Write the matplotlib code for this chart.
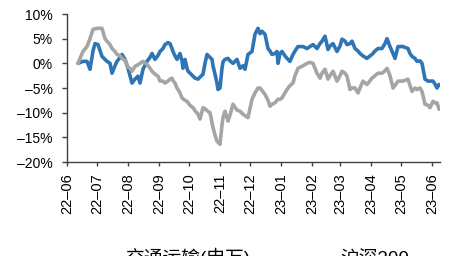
import numpy as np
import pandas as pd
import matplotlib
matplotlib.use('Agg')
import matplotlib.pyplot as plt
import matplotlib.dates as mdates
from matplotlib.ticker import FuncFormatter

plt.rcParams['font.family'] = ['Liberation Sans', 'Noto Sans CJK SC']

# dates of the readings
dates = [
    '2022-06-12', '2022-06-17', '2022-06-21', '2022-06-24', '2022-06-27', '2022-06-29',
    '2022-07-02', '2022-07-06', '2022-07-09', '2022-07-11', '2022-07-14', '2022-07-16',
    '2022-07-19', '2022-07-21', '2022-07-24', '2022-07-26', '2022-07-29',
    '2022-08-01', '2022-08-03', '2022-08-05', '2022-08-08', '2022-08-11', '2022-08-13',
    '2022-08-16', '2022-08-20', '2022-08-23', '2022-08-25', '2022-08-28', '2022-08-31',
    '2022-09-02', '2022-09-05', '2022-09-07', '2022-09-10', '2022-09-12', '2022-09-14',
    '2022-09-15', '2022-09-17', '2022-09-19', '2022-09-22', '2022-09-24', '2022-09-25',
    '2022-09-27', '2022-09-29', '2022-09-30',
    '2022-10-02', '2022-10-05', '2022-10-07', '2022-10-10', '2022-10-12', '2022-10-15',
    '2022-10-17', '2022-10-19', '2022-10-22', '2022-10-24', '2022-10-25', '2022-10-27',
    '2022-10-29', '2022-10-30',
    '2022-11-01', '2022-11-03', '2022-11-04', '2022-11-06', '2022-11-09', '2022-11-11',
    '2022-11-14', '2022-11-18', '2022-11-21', '2022-11-24', '2022-11-26', '2022-11-29',
    '2022-12-03', '2022-12-06', '2022-12-09', '2022-12-11', '2022-12-13', '2022-12-16',
    '2022-12-19', '2022-12-21', '2022-12-23', '2022-12-26', '2022-12-28', '2022-12-29',
    '2022-12-31',
    '2023-01-02', '2023-01-05', '2023-01-07', '2023-01-10', '2023-01-13', '2023-01-15',
    '2023-01-18', '2023-01-20', '2023-01-23', '2023-01-27', '2023-01-30',
    '2023-02-02', '2023-02-06', '2023-02-09', '2023-02-11', '2023-02-14', '2023-02-17',
    '2023-02-19', '2023-02-22', '2023-02-26',
    '2023-03-01', '2023-03-03', '2023-03-06', '2023-03-08', '2023-03-11', '2023-03-13',
    '2023-03-16', '2023-03-19', '2023-03-21', '2023-03-24', '2023-03-28', '2023-03-31',
    '2023-04-02', '2023-04-05', '2023-04-08', '2023-04-12', '2023-04-15', '2023-04-17',
    '2023-04-20', '2023-04-23', '2023-04-25', '2023-04-28',
    '2023-05-03', '2023-05-08', '2023-05-10', '2023-05-12', '2023-05-15', '2023-05-17',
    '2023-05-20', '2023-05-22', '2023-05-25', '2023-05-28', '2023-05-30',
    '2023-06-02', '2023-06-04', '2023-06-06', '2023-06-08',
]

# 交通运输(申万), cumulative return %
transport = [
    0.0, 0.4, 0.4, -1.2, 2.5, 4.0,
    3.8, 1.4, 0.8, 0.4, 0.0, -2.0,
    -0.5, 0.4, 1.2, 1.8, 0.8,
    -1.0, -2.5, -4.0, -3.2, -2.6, -4.0,
    -1.2, 0.4, 1.2, 2.0, 0.8, 1.6,
    2.4, 3.0, 3.8, 4.2, 4.0, 3.0,
    2.4, 1.5, 0.8, 2.0, 0.5, -1.0,
    0.8, -1.0, -1.6,
    -2.0, -2.6, -3.0, -3.2, -2.8, -2.2,
    0.0, 1.8, 1.2, 0.8, -0.5, -2.2,
    -4.0, -5.3,
    -5.0, -1.0, 0.3, 0.8, 1.0, 0.5,
    0.0, 0.8, -1.0, -0.5, -1.2, 1.8,
    2.4, 5.9, 7.1, 6.0, 6.5, 5.9,
    3.0, 2.5, 1.8, 2.0, 2.4, 0.0,
    2.0,
    2.4, 1.5, 1.0, 0.4, 1.8, 2.5,
    3.4, 3.4, 3.4, 3.0, 3.4,
    3.8, 3.0, 4.0, 4.5, 5.5, 2.8,
    3.5, 4.0, 2.4,
    3.5, 4.9, 4.5, 3.8, 4.0, 4.5,
    3.0, 2.5, 2.0, 1.5, 1.0, 1.5,
    1.8, 2.5, 3.0, 3.0, 4.0, 5.0,
    3.4, 2.0, 1.0, 3.4,
    3.4, 3.0, 2.0, 1.4, 1.0, 0.4,
    0.5, 0.0, -3.2, -3.6, -3.6,
    -3.6, -4.2, -5.0, -4.3,
]

# 沪深300, cumulative return %
hs300 = [
    0.0, 2.4, 3.4, 5.0, 6.9, 7.0,
    7.1, 7.1, 5.0, 4.5, 3.8, 3.0,
    2.4, 1.8, 1.6, 1.0, 0.6,
    -0.8, -1.0, -1.6, -0.6, -0.3, 0.0,
    0.4, -0.2, -1.0, -1.6, -2.2, -2.6,
    -3.6, -3.6, -4.0, -3.6, -3.2, -3.0,
    -3.5, -4.0, -5.0, -6.0, -7.0, -7.2,
    -7.5, -7.7, -8.0,
    -8.5, -9.0, -9.6, -10.3, -11.3, -9.0,
    -9.2, -9.6, -10.0, -12.0, -13.0, -14.5,
    -15.8, -16.0,
    -16.4, -12.5, -11.0, -9.7, -11.7, -10.5,
    -8.3, -9.5, -9.7, -10.3, -10.6, -11.0,
    -7.3, -6.0, -5.0, -5.0, -5.5, -6.3,
    -7.5, -8.7, -8.3, -8.0, -7.5, -7.3,
    -7.3,
    -7.0, -6.0, -5.3, -4.5, -4.0, -2.5,
    -1.0, -0.8, -0.5, 0.0, 0.2,
    0.0, -2.0, -3.0, -2.0, -1.2, -3.2,
    -2.5, -1.6, -3.6,
    -2.5, -1.6, -2.0, -2.6, -5.3, -5.0,
    -5.0, -6.0, -5.0, -3.6, -4.3, -3.5,
    -3.0, -2.5, -2.0, -2.0, -1.5, -1.0,
    -2.5, -5.0, -4.5, -3.6,
    -3.6, -3.2, -4.5, -5.7, -5.0, -5.3,
    -5.0, -5.7, -8.3, -8.5, -9.0,
    -7.7, -8.0, -8.0, -9.3,
]

tick_months = pd.date_range('2022-06-01', '2023-06-01', freq='MS')

d = pd.to_datetime(dates)

fig = plt.figure(figsize=(4.51, 2.56), dpi=100)
ax = fig.add_axes([67/451, 1-162/256, (440-67)/451, (162-14)/256])

ax.plot(d, np.array(transport)/100, color='#2E75B6', lw=2.6, label='交通运输(申万)',
        solid_joinstyle='round', solid_capstyle='round')
ax.plot(d, np.array(hs300)/100, color='#A5A5A5', lw=2.6, label='沪深300',
        solid_joinstyle='round', solid_capstyle='round')

ax.set_ylim(-0.20, 0.10)
ax.set_yticks(np.arange(-0.20, 0.101, 0.05))
ax.yaxis.set_major_formatter(FuncFormatter(
    lambda v, p: ('\u2013' if v < -1e-9 else '') + '%d%%' % round(abs(v)*100)))

ax.set_xlim(pd.Timestamp('2022-06-01'), pd.Timestamp('2023-06-09'))
ax.set_xticks(tick_months)
ax.xaxis.set_major_formatter(mdates.DateFormatter('%y\u2013%m'))
for lab in ax.get_xticklabels():
    lab.set_rotation(90)

ax.tick_params(axis='both', labelsize=10, direction='out', color='#404040',
               labelcolor='black', width=1)
ax.tick_params(axis='y', length=3.6, pad=6.5)
ax.tick_params(axis='x', length=3, pad=5, labelsize=10.5)

for s in ['top', 'right']:
    ax.spines[s].set_visible(False)
for s in ['left', 'bottom']:
    ax.spines[s].set_color('#404040')
    ax.spines[s].set_linewidth(1)

# legend sits at the bottom edge, mostly cut off like in the source
fig.legend(loc='center', bbox_to_anchor=(0.534, 1-258/256), ncol=2, frameon=False,
           fontsize=13.5, handlelength=2, handletextpad=0.8, columnspacing=2)

fig.savefig('out.png', dpi=100)
